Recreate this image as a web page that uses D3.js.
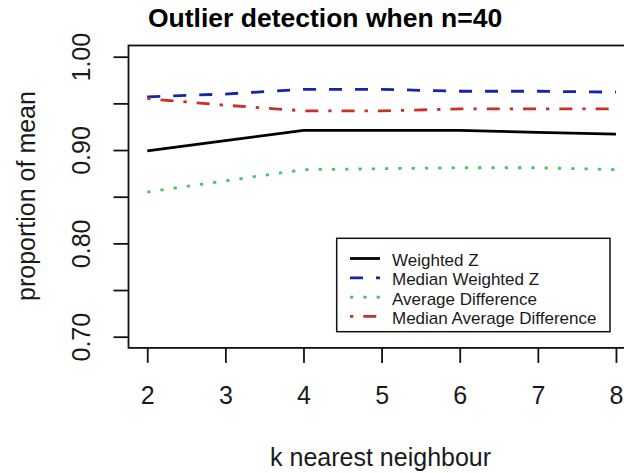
<!DOCTYPE html>
<html>
<head>
<meta charset="utf-8">
<script src="https://cdn.jsdelivr.net/npm/d3@7/dist/d3.min.js"></script>
<style>
  html, body { margin: 0; padding: 0; background: #fff; }
  svg { display: block; font-family: "Liberation Sans", Arial, sans-serif; }
</style>
</head>
<body>
<svg id="chart" width="624" height="473"></svg>
<script>
// ---- data ----
const kValues = [2, 3, 4, 5, 6, 7, 8];
const weightedZ = [0.899, 0.910, 0.921, 0.921, 0.921, 0.919, 0.917];
const medianWeightedZ = [0.957, 0.960, 0.965, 0.965, 0.963, 0.963, 0.962];
const averageDifference = [0.855, 0.867, 0.879, 0.880, 0.881, 0.881, 0.879];
const medianAverageDifference = [0.955, 0.948, 0.942, 0.942, 0.944, 0.944, 0.944];
const seriesNames = ["Weighted Z", "Median Weighted Z", "Average Difference", "Median Average Difference"];
const xTicks = [2, 3, 4, 5, 6, 7, 8];
const yTicks = [0.70, 0.75, 0.80, 0.85, 0.90, 0.95, 1.00];
const yLabelled = [0.70, 0.80, 0.90, 1.00];
const titleText = "Outlier detection when n=40";
const xTitle = "k nearest neighbour";
const yTitle = "proportion of mean";

// ---- styles ----
const styles = [
  { color: "#000000", dash: null },
  { color: "#1525a8", dash: "13,13" },
  { color: "#4cc46c", dash: "3.3,10" },
  { color: "#c8302a", dash: "3.3,10,13,10" }
];
const seriesValues = [weightedZ, medianWeightedZ, averageDifference, medianAverageDifference];

const svg = d3.select("#chart");
const pLeft = 128.5, pRight = 634.7, pTop = 45.5, pBottom = 347.9;

const x = d3.scaleLinear().domain([1.76, 8.24]).range([pLeft, pRight]);
const y = d3.scaleLinear().domain([0.688, 1.012]).range([pBottom, pTop]);

// plot box
svg.append("rect")
  .attr("x", pLeft).attr("y", pTop)
  .attr("width", pRight - pLeft).attr("height", pBottom - pTop)
  .attr("fill", "none").attr("stroke", "#111").attr("stroke-width", 1.8);

// x axis
const gx = svg.append("g").attr("transform", `translate(0,${pBottom})`)
  .call(d3.axisBottom(x).tickValues(xTicks).tickSize(15).tickFormat(d3.format("d")));
gx.select(".domain").remove();
gx.selectAll(".tick line").attr("stroke", "#111").attr("stroke-width", 1.8);
gx.selectAll(".tick text")
  .attr("y", 56).attr("dy", 0)
  .attr("fill", "#1a1a1a")
  .style("font-size", "25px").style("font-family", "Liberation Sans, Arial, sans-serif");

// y axis
const fmt = d3.format(".2f");
const gy = svg.append("g").attr("transform", `translate(${pLeft},0)`)
  .call(d3.axisLeft(y).tickValues(yTicks).tickSize(15)
    .tickFormat(d => yLabelled.some(v => Math.abs(v - d) < 1e-9) ? fmt(d) : ""));
gy.select(".domain").remove();
gy.selectAll(".tick line").attr("stroke", "#111").attr("stroke-width", 1.8);
gy.selectAll(".tick text")
  .attr("x", 0).attr("y", -38.5).attr("dy", 0)
  .attr("transform", "rotate(-90)")
  .style("text-anchor", "middle")
  .attr("fill", "#1a1a1a")
  .style("font-size", "25px").style("font-family", "Liberation Sans, Arial, sans-serif");

// lines
const line = d3.line().x((d, i) => x(kValues[i])).y(d => y(d));
seriesValues.forEach((vals, si) => {
  svg.append("path")
    .datum(vals)
    .attr("d", line)
    .attr("fill", "none")
    .attr("stroke", styles[si].color)
    .attr("stroke-width", 2.8)
    .attr("stroke-linecap", "butt")
    .attr("stroke-dasharray", styles[si].dash);
});

// legend
const lg = svg.append("g");
lg.append("rect")
  .attr("x", 336.7).attr("y", 238.3).attr("width", 273.3).attr("height", 93.4)
  .attr("fill", "#fff").attr("stroke", "#111").attr("stroke-width", 1.5);
seriesNames.forEach((name, i) => {
  const ry = 258.5 + i * 19.3;
  lg.append("line")
    .attr("x1", 350).attr("x2", 380).attr("y1", ry).attr("y2", ry)
    .attr("stroke", styles[i].color).attr("stroke-width", 2.8)
    .attr("stroke-dasharray", styles[i].dash);
  lg.append("text")
    .attr("x", 392).attr("y", ry + 7.5)
    .attr("fill", "#1a1a1a")
    .style("font-size", "17px")
    .text(name);
});

// titles
svg.append("text")
  .attr("x", 148).attr("y", 27)
  .style("font-size", "26.5px").style("font-weight", "bold")
  .attr("fill", "#000")
  .text(titleText);

svg.append("text")
  .attr("x", (pLeft + pRight) / 2 - 1).attr("y", 466)
  .style("text-anchor", "middle").style("font-size", "25px")
  .attr("fill", "#1a1a1a")
  .text(xTitle);

svg.append("text")
  .attr("transform", "translate(35,196) rotate(-90)")
  .style("text-anchor", "middle").style("font-size", "25px")
  .attr("fill", "#1a1a1a")
  .text(yTitle);
</script>
</body>
</html>
